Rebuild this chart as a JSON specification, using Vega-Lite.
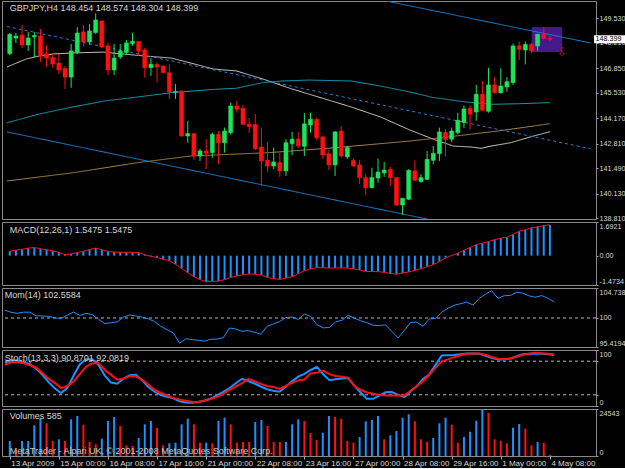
{
"$schema": "https://vega.github.io/schema/vega-lite/v6.json",
"background": "#000000",
"padding": 0,
"spacing": 3,
"bounds": "flush",
"config": {
  "view": {"stroke": "#8a8a8a", "strokeWidth": 1},
  "font": "Liberation Sans Narrow, Liberation Sans, sans-serif",
  "axis": {"labelColor": "#d8d8d8", "labelFont": "Liberation Sans, sans-serif", "labelFontSize": 7.2, "tickColor": "#a0a0a0", "domain": false, "grid": false, "tickSize": 2, "labelPadding": 1}
},
"datasets": {
  "bars": [
{"i":0,"o":147.63,"h":148.74,"l":147.56,"c":148.67,"macd":0.22,"mom":101.26,"k":77.5,"d":73.7,"vol":7833,"vd":"up"},
{"i":1,"o":148.47,"h":148.74,"l":148.21,"c":148.58,"macd":0.28,"mom":100.90,"k":81.8,"d":78.2,"vol":3133,"vd":"down"},
{"i":2,"o":148.63,"h":149.17,"l":147.94,"c":148.10,"macd":0.32,"mom":100.74,"k":81.3,"d":78.2,"vol":7833,"vd":"up"},
{"i":3,"o":148.10,"h":148.80,"l":147.78,"c":148.47,"macd":0.38,"mom":100.92,"k":78.0,"d":76.4,"vol":7833,"vd":"up"},
{"i":4,"o":148.53,"h":148.80,"l":147.46,"c":148.61,"macd":0.41,"mom":100.92,"k":74.8,"d":72.8,"vol":16032,"vd":"up"},
{"i":5,"o":148.58,"h":148.96,"l":147.19,"c":147.51,"macd":0.35,"mom":100.35,"k":66.8,"d":68.8,"vol":20000,"vd":"up"},
{"i":6,"o":147.62,"h":148.10,"l":146.92,"c":147.40,"macd":0.30,"mom":100.32,"k":56.0,"d":59.3,"vol":17076,"vd":"down"},
{"i":7,"o":147.43,"h":147.67,"l":146.87,"c":147.08,"macd":0.24,"mom":100.27,"k":42.9,"d":48.8,"vol":7833,"vd":"down"},
{"i":8,"o":147.13,"h":147.62,"l":146.55,"c":146.76,"macd":0.17,"mom":100.03,"k":31.5,"d":41.3,"vol":8721,"vd":"up"},
{"i":9,"o":146.84,"h":146.97,"l":145.74,"c":146.38,"macd":0.05,"mom":99.92,"k":23.1,"d":31.9,"vol":7833,"vd":"down"},
{"i":10,"o":146.38,"h":148.15,"l":145.80,"c":147.78,"macd":0.09,"mom":100.43,"k":31.9,"d":35.7,"vol":19165,"vd":"up"},
{"i":11,"o":147.70,"h":149.06,"l":147.62,"c":148.74,"macd":0.16,"mom":100.95,"k":53.7,"d":43.4,"vol":20888,"vd":"up"},
{"i":12,"o":148.80,"h":149.17,"l":148.02,"c":148.26,"macd":0.22,"mom":100.40,"k":74.1,"d":56.8,"vol":16345,"vd":"down"},
{"i":13,"o":148.26,"h":149.22,"l":148.10,"c":148.85,"macd":0.31,"mom":100.74,"k":83.6,"d":70.1,"vol":7311,"vd":"down"},
{"i":14,"o":148.77,"h":149.79,"l":148.69,"c":149.44,"macd":0.38,"mom":100.55,"k":83.6,"d":76.0,"vol":6110,"vd":"down"},
{"i":15,"o":149.39,"h":149.41,"l":147.94,"c":147.99,"macd":0.30,"mom":99.81,"k":73.7,"d":76.9,"vol":9034,"vd":"up"},
{"i":16,"o":148.05,"h":148.21,"l":146.49,"c":146.76,"macd":0.21,"mom":99.12,"k":54.4,"d":64.7,"vol":18277,"vd":"up"},
{"i":17,"o":146.76,"h":148.15,"l":146.49,"c":147.40,"macd":0.18,"mom":99.24,"k":41.8,"d":56.0,"vol":20366,"vd":"up"},
{"i":18,"o":147.46,"h":148.15,"l":147.35,"c":147.78,"macd":0.17,"mom":99.40,"k":39.8,"d":47.0,"vol":15666,"vd":"down"},
{"i":19,"o":147.70,"h":148.37,"l":147.62,"c":148.21,"macd":0.17,"mom":100.13,"k":48.6,"d":49.0,"vol":5588,"vd":"down"},
{"i":20,"o":148.18,"h":148.76,"l":148.05,"c":148.29,"macd":0.17,"mom":100.47,"k":54.8,"d":53.3,"vol":5222,"vd":"down"},
{"i":21,"o":148.29,"h":148.31,"l":147.51,"c":147.78,"macd":0.15,"mom":100.33,"k":55.9,"d":53.0,"vol":9400,"vd":"up"},
{"i":22,"o":147.83,"h":147.95,"l":146.35,"c":146.88,"macd":0.05,"mom":100.13,"k":46.0,"d":46.8,"vol":16554,"vd":"up"},
{"i":23,"o":146.89,"h":147.40,"l":146.44,"c":147.07,"macd":-0.03,"mom":99.87,"k":33.9,"d":37.7,"vol":18277,"vd":"up"},
{"i":24,"o":147.05,"h":147.16,"l":146.09,"c":146.92,"macd":-0.09,"mom":99.43,"k":25.4,"d":28.5,"vol":14622,"vd":"down"},
{"i":25,"o":146.97,"h":147.00,"l":146.60,"c":146.61,"macd":-0.18,"mom":98.69,"k":19.5,"d":23.6,"vol":5588,"vd":"down"},
{"i":26,"o":146.61,"h":147.07,"l":145.19,"c":145.58,"macd":-0.25,"mom":98.15,"k":16.4,"d":19.1,"vol":6632,"vd":"up"},
{"i":27,"o":145.58,"h":146.01,"l":145.21,"c":145.61,"macd":-0.43,"mom":97.66,"k":13.7,"d":14.2,"vol":6945,"vd":"up"},
{"i":28,"o":145.63,"h":145.66,"l":143.19,"c":143.22,"macd":-0.64,"mom":96.02,"k":8.6,"d":11.4,"vol":16554,"vd":"up"},
{"i":29,"o":143.22,"h":144.03,"l":142.86,"c":143.35,"macd":-0.85,"mom":96.72,"k":6.3,"d":9.5,"vol":19478,"vd":"up"},
{"i":30,"o":143.35,"h":143.36,"l":141.94,"c":142.15,"macd":-1.06,"mom":96.60,"k":5.8,"d":7.6,"vol":16554,"vd":"down"},
{"i":31,"o":142.15,"h":142.53,"l":141.88,"c":142.42,"macd":-1.20,"mom":96.48,"k":7.0,"d":7.0,"vol":6945,"vd":"down"},
{"i":32,"o":142.42,"h":143.05,"l":141.45,"c":142.29,"macd":-1.31,"mom":96.34,"k":9.7,"d":9.5,"vol":6945,"vd":"up"},
{"i":33,"o":142.33,"h":143.40,"l":142.06,"c":143.31,"macd":-1.29,"mom":96.65,"k":13.3,"d":12.4,"vol":6632,"vd":"down"},
{"i":34,"o":143.31,"h":143.49,"l":141.71,"c":142.86,"macd":-1.28,"mom":96.65,"k":18.9,"d":16.2,"vol":18277,"vd":"up"},
{"i":35,"o":142.86,"h":143.67,"l":142.33,"c":143.49,"macd":-1.20,"mom":96.90,"k":25.4,"d":21.6,"vol":20000,"vd":"up"},
{"i":36,"o":143.40,"h":145.01,"l":143.31,"c":144.83,"macd":-1.09,"mom":98.42,"k":32.1,"d":29.0,"vol":16554,"vd":"down"},
{"i":37,"o":144.83,"h":145.10,"l":144.47,"c":144.65,"macd":-1.02,"mom":98.26,"k":40.5,"d":34.8,"vol":6945,"vd":"down"},
{"i":38,"o":144.71,"h":144.88,"l":143.81,"c":143.85,"macd":-0.96,"mom":97.90,"k":48.6,"d":40.7,"vol":7311,"vd":"down"},
{"i":39,"o":143.85,"h":144.19,"l":143.38,"c":143.73,"macd":-0.92,"mom":98.01,"k":44.3,"d":48.6,"vol":7311,"vd":"down"},
{"i":40,"o":143.84,"h":144.40,"l":142.47,"c":142.54,"macd":-0.93,"mom":97.76,"k":40.2,"d":44.3,"vol":17755,"vd":"up"},
{"i":41,"o":142.63,"h":143.67,"l":140.54,"c":141.88,"macd":-0.97,"mom":97.44,"k":34.8,"d":39.5,"vol":18799,"vd":"up"},
{"i":42,"o":141.92,"h":142.90,"l":141.29,"c":141.61,"macd":-1.09,"mom":98.69,"k":29.9,"d":35.7,"vol":15666,"vd":"down"},
{"i":43,"o":141.61,"h":142.60,"l":141.45,"c":141.83,"macd":-1.16,"mom":99.04,"k":27.2,"d":34.1,"vol":7311,"vd":"down"},
{"i":44,"o":141.80,"h":142.33,"l":141.03,"c":141.35,"macd":-1.19,"mom":99.42,"k":25.4,"d":30.6,"vol":7311,"vd":"down"},
{"i":45,"o":141.35,"h":143.05,"l":141.08,"c":142.86,"macd":-1.12,"mom":100.06,"k":34.2,"d":35.7,"vol":7311,"vd":"up"},
{"i":46,"o":142.81,"h":143.44,"l":142.20,"c":143.05,"macd":-1.06,"mom":100.16,"k":44.0,"d":41.3,"vol":16554,"vd":"up"},
{"i":47,"o":143.06,"h":143.44,"l":142.58,"c":142.69,"macd":-0.90,"mom":99.78,"k":52.4,"d":45.8,"vol":19165,"vd":"up"},
{"i":48,"o":142.67,"h":144.45,"l":142.15,"c":143.87,"macd":-0.76,"mom":100.62,"k":57.3,"d":47.2,"vol":18277,"vd":"down"},
{"i":49,"o":143.81,"h":144.47,"l":143.40,"c":144.12,"macd":-0.66,"mom":100.24,"k":64.3,"d":58.2,"vol":12011,"vd":"down"},
{"i":50,"o":144.11,"h":144.20,"l":143.01,"c":143.13,"macd":-0.60,"mom":98.94,"k":69.7,"d":59.3,"vol":8355,"vd":"down"},
{"i":51,"o":143.17,"h":143.22,"l":141.99,"c":142.20,"macd":-0.61,"mom":98.44,"k":56.8,"d":63.2,"vol":12167,"vd":"up"},
{"i":52,"o":142.27,"h":142.47,"l":141.40,"c":141.67,"macd":-0.62,"mom":98.51,"k":45.9,"d":56.9,"vol":20888,"vd":"up"},
{"i":53,"o":141.67,"h":143.49,"l":141.08,"c":143.44,"macd":-0.62,"mom":99.40,"k":47.9,"d":53.5,"vol":20366,"vd":"down"},
{"i":54,"o":143.49,"h":143.76,"l":142.06,"c":142.15,"macd":-0.62,"mom":99.64,"k":49.2,"d":52.1,"vol":19478,"vd":"down"},
{"i":55,"o":142.10,"h":142.69,"l":142.01,"c":142.60,"macd":-0.62,"mom":100.41,"k":49.9,"d":50.6,"vol":7833,"vd":"down"},
{"i":56,"o":141.92,"h":142.01,"l":141.57,"c":141.61,"macd":-0.66,"mom":99.97,"k":35.9,"d":35.9,"vol":6945,"vd":"down"},
{"i":57,"o":141.67,"h":141.92,"l":140.65,"c":140.99,"macd":-0.72,"mom":99.57,"k":24.1,"d":29.0,"vol":9922,"vd":"up"},
{"i":58,"o":140.99,"h":141.19,"l":140.06,"c":140.45,"macd":-0.79,"mom":99.26,"k":12.8,"d":24.1,"vol":18120,"vd":"up"},
{"i":59,"o":140.45,"h":141.52,"l":140.42,"c":140.99,"macd":-0.80,"mom":98.85,"k":12.8,"d":21.8,"vol":18799,"vd":"up"},
{"i":60,"o":140.97,"h":142.01,"l":140.72,"c":141.29,"macd":-0.80,"mom":98.80,"k":18.4,"d":19.6,"vol":20888,"vd":"up"},
{"i":61,"o":141.24,"h":141.83,"l":141.03,"c":141.40,"macd":-0.84,"mom":98.91,"k":24.5,"d":18.7,"vol":8721,"vd":"down"},
{"i":62,"o":141.43,"h":141.56,"l":140.54,"c":140.99,"macd":-0.89,"mom":97.88,"k":25.0,"d":18.7,"vol":10810,"vd":"up"},
{"i":63,"o":140.99,"h":141.00,"l":139.47,"c":139.52,"macd":-0.93,"mom":96.86,"k":19.8,"d":18.7,"vol":13055,"vd":"up"},
{"i":64,"o":139.52,"h":139.90,"l":138.99,"c":139.88,"macd":-0.87,"mom":98.03,"k":15.7,"d":18.9,"vol":20000,"vd":"up"},
{"i":65,"o":139.83,"h":141.44,"l":139.78,"c":141.38,"macd":-0.82,"mom":99.32,"k":25.8,"d":27.2,"vol":21776,"vd":"up"},
{"i":66,"o":141.35,"h":141.92,"l":140.81,"c":140.85,"macd":-0.74,"mom":99.32,"k":35.5,"d":35.3,"vol":18120,"vd":"down"},
{"i":67,"o":140.78,"h":141.17,"l":140.72,"c":140.99,"macd":-0.65,"mom":98.70,"k":48.1,"d":44.1,"vol":8721,"vd":"down"},
{"i":68,"o":140.90,"h":142.42,"l":140.86,"c":141.97,"macd":-0.55,"mom":99.85,"k":56.4,"d":55.7,"vol":7311,"vd":"down"},
{"i":69,"o":141.92,"h":142.69,"l":141.70,"c":142.29,"macd":-0.45,"mom":99.95,"k":73.5,"d":68.1,"vol":9400,"vd":"up"},
{"i":70,"o":142.27,"h":143.67,"l":141.88,"c":143.44,"macd":-0.29,"mom":100.95,"k":90.3,"d":79.6,"vol":17076,"vd":"up"},
{"i":71,"o":143.41,"h":143.60,"l":142.11,"c":143.03,"macd":-0.11,"mom":101.55,"k":90.8,"d":83.2,"vol":20000,"vd":"up"},
{"i":72,"o":143.05,"h":143.67,"l":142.90,"c":143.49,"macd":0.01,"mom":102.02,"k":91.2,"d":87.2,"vol":16345,"vd":"down"},
{"i":73,"o":143.40,"h":144.47,"l":143.31,"c":144.06,"macd":0.13,"mom":102.26,"k":92.6,"d":90.5,"vol":6945,"vd":"down"},
{"i":74,"o":143.94,"h":144.86,"l":143.65,"c":144.67,"macd":0.27,"mom":102.50,"k":93.9,"d":93.3,"vol":9922,"vd":"up"},
{"i":75,"o":144.70,"h":144.87,"l":143.58,"c":144.39,"macd":0.41,"mom":102.05,"k":93.9,"d":93.9,"vol":12689,"vd":"up"},
{"i":76,"o":144.51,"h":145.96,"l":144.04,"c":145.46,"macd":0.56,"mom":103.10,"k":93.5,"d":93.9,"vol":18434,"vd":"up"},
{"i":77,"o":145.46,"h":146.17,"l":144.56,"c":144.60,"macd":0.63,"mom":103.76,"k":89.7,"d":91.5,"vol":24543,"vd":"up"},
{"i":78,"o":144.55,"h":146.88,"l":144.47,"c":145.96,"macd":0.71,"mom":104.30,"k":85.9,"d":87.4,"vol":22455,"vd":"down"},
{"i":79,"o":145.96,"h":146.38,"l":145.49,"c":145.54,"macd":0.80,"mom":103.10,"k":82.9,"d":84.5,"vol":8721,"vd":"down"},
{"i":80,"o":145.54,"h":146.85,"l":145.49,"c":145.90,"macd":0.88,"mom":103.52,"k":83.2,"d":84.0,"vol":7990,"vd":"down"},
{"i":81,"o":145.85,"h":146.38,"l":145.59,"c":146.13,"macd":0.92,"mom":103.57,"k":84.9,"d":84.9,"vol":6632,"vd":"down"},
{"i":82,"o":146.08,"h":148.17,"l":145.96,"c":148.05,"macd":1.07,"mom":104.07,"k":88.8,"d":88.1,"vol":14778,"vd":"up"},
{"i":83,"o":148.05,"h":148.28,"l":147.30,"c":147.87,"macd":1.23,"mom":103.92,"k":92.3,"d":91.5,"vol":16710,"vd":"up"},
{"i":84,"o":147.83,"h":148.28,"l":147.06,"c":148.13,"macd":1.31,"mom":103.49,"k":93.2,"d":93.3,"vol":14256,"vd":"down"},
{"i":85,"o":148.13,"h":148.22,"l":147.65,"c":147.78,"macd":1.40,"mom":103.27,"k":93.9,"d":95.0,"vol":5588,"vd":"down"},
{"i":86,"o":148.05,"h":148.70,"l":147.78,"c":148.67,"macd":1.45,"mom":103.55,"k":93.3,"d":94.1,"vol":7311,"vd":"up"},
{"i":87,"o":148.67,"h":149.06,"l":148.40,"c":148.45,"macd":1.51,"mom":103.11,"k":92.6,"d":93.3,"vol":6945,"vd":"down"},
{"i":88,"o":148.454,"h":148.574,"l":148.304,"c":148.399,"macd":1.5475,"mom":102.5584,"k":90.8701,"d":92.0819,"vol":585,"vd":"down"}
  ],
  "lines": [
{"s":"ma1","i":-0.45,"p":146.92},{"s":"ma1","i":2.7,"p":147.35},{"s":"ma1","i":4.8,"p":147.51},{"s":"ma1","i":7.1,"p":147.62},{"s":"ma1","i":10.3,"p":147.67},{"s":"ma1","i":15.1,"p":147.72},{"s":"ma1","i":18.3,"p":147.62},{"s":"ma1","i":22.0,"p":147.51},{"s":"ma1","i":26.3,"p":147.40},{"s":"ma1","i":29.5,"p":147.13},{"s":"ma1","i":33.2,"p":146.81},{"s":"ma1","i":36.9,"p":146.71},{"s":"ma1","i":41.2,"p":146.28},{"s":"ma1","i":46.0,"p":145.74},{"s":"ma1","i":51.9,"p":145.15},{"s":"ma1","i":55.6,"p":144.78},{"s":"ma1","i":60.4,"p":144.24},{"s":"ma1","i":65.2,"p":143.54},{"s":"ma1","i":69.1,"p":143.04},{"s":"ma1","i":72.3,"p":142.68},{"s":"ma1","i":75.2,"p":142.63},{"s":"ma1","i":76.8,"p":142.56},{"s":"ma1","i":78.4,"p":142.68},{"s":"ma1","i":81.6,"p":142.86},{"s":"ma1","i":84.8,"p":143.17},{"s":"ma1","i":88.0,"p":143.45},
{"s":"ma2","i":-0.45,"p":143.93},{"s":"ma2","i":4.8,"p":144.40},{"s":"ma2","i":10.3,"p":144.78},{"s":"ma2","i":15.5,"p":145.10},{"s":"ma2","i":20.8,"p":145.31},{"s":"ma2","i":26.3,"p":145.54},{"s":"ma2","i":33.2,"p":145.72},{"s":"ma2","i":36.9,"p":145.78},{"s":"ma2","i":41.2,"p":146.08},{"s":"ma2","i":44.4,"p":146.17},{"s":"ma2","i":48.7,"p":146.22},{"s":"ma2","i":55.6,"p":146.17},{"s":"ma2","i":60.4,"p":145.90},{"s":"ma2","i":65.2,"p":145.58},{"s":"ma2","i":68.9,"p":145.29},{"s":"ma2","i":74.4,"p":145.04},{"s":"ma2","i":78.5,"p":144.92},{"s":"ma2","i":82.9,"p":144.95},{"s":"ma2","i":88.0,"p":145.01},
{"s":"ma3","i":-0.45,"p":140.81},{"s":"ma3","i":10.3,"p":141.25},{"s":"ma3","i":20.8,"p":141.79},{"s":"ma3","i":29.5,"p":142.15},{"s":"ma3","i":33.2,"p":142.20},{"s":"ma3","i":42.3,"p":142.33},{"s":"ma3","i":52.9,"p":142.59},{"s":"ma3","i":65.2,"p":142.95},{"s":"ma3","i":71.6,"p":143.18},{"s":"ma3","i":79.6,"p":143.49},{"s":"ma3","i":88.0,"p":143.88},
{"s":"up","i":-0.45,"p":154.63},{"s":"up","i":94.6,"p":148.21},
{"s":"low","i":-0.45,"p":143.44},{"s":"low","i":94.6,"p":136.95},
{"s":"dash","i":-0.45,"p":149.09},{"s":"dash","i":94.6,"p":142.54}
  ],
  "zone": [{"i":85.05,"i2":90.0,"p":147.72,"p2":149.06}]
},
"vconcat": [
{
  "width": 594, "height": 218,
  "layer": [
    {"data": {"name": "zone"}, "mark": {"type": "rect", "color": "#46198a", "clip": true},
     "encoding": {
       "x": {"field": "i", "type": "quantitative", "scale": {"domain": [-0.45, 94.7], "nice": false, "zero": false}, "axis": null},
       "x2": {"field": "i2"},
       "y": {"field": "p", "type": "quantitative", "scale": {"domain": [138.772, 150.457], "nice": false, "zero": false},
             "axis": {"orient": "right", "title": null, "values": [149.53, 148.21, 146.85, 145.53, 144.17, 142.81, 141.49, 140.13, 138.81], "format": ".3f"}},
       "y2": {"field": "p2"}}},
    {"data": {"name": "lines"}, "mark": {"type": "line", "strokeWidth": 1, "clip": true},
     "encoding": {
       "x": {"field": "i", "type": "quantitative", "scale": {"domain": [-0.45, 94.7], "nice": false, "zero": false}, "axis": null},
       "y": {"field": "p", "type": "quantitative", "scale": {"domain": [138.772, 150.457], "nice": false, "zero": false},
             "axis": {"orient": "right", "title": null, "values": [149.53, 148.21, 146.85, 145.53, 144.17, 142.81, 141.49, 140.13, 138.81], "format": ".3f"}},
       "color": {"field": "s", "type": "nominal", "legend": null, "scale": {"domain": ["ma1", "ma2", "ma3", "up", "low", "dash"], "range": ["#d8d1c2", "#1a9fbb", "#a8894b", "#1c84d4", "#1c84d4", "#1c84d4"]}},
       "strokeDash": {"field": "s", "type": "nominal", "legend": null, "scale": {"domain": ["ma1", "ma2", "ma3", "up", "low", "dash"], "range": [[1, 0], [1, 0], [1, 0], [1, 0], [1, 0], [3, 3]]}}}},
    {"data": {"name": "bars"}, "mark": {"type": "rule", "strokeWidth": 1, "clip": true},
     "encoding": {
       "x": {"field": "i", "type": "quantitative", "scale": {"domain": [-0.45, 94.7], "nice": false, "zero": false}, "axis": null},
       "y": {"field": "l", "type": "quantitative", "scale": {"domain": [138.772, 150.457], "nice": false, "zero": false},
             "axis": {"orient": "right", "title": null, "values": [149.53, 148.21, 146.85, 145.53, 144.17, 142.81, 141.49, 140.13, 138.81], "format": ".3f"}},
       "y2": {"field": "h"},
       "color": {"condition": {"test": "datum.c >= datum.o", "value": "#1ee35a"}, "value": "#ff1010"}}},
    {"data": {"name": "bars"}, "mark": {"type": "bar", "size": 4, "strokeWidth": 0.6, "clip": true},
     "encoding": {
       "x": {"field": "i", "type": "quantitative", "scale": {"domain": [-0.45, 94.7], "nice": false, "zero": false}, "axis": null},
       "y": {"field": "o", "type": "quantitative", "scale": {"domain": [138.772, 150.457], "nice": false, "zero": false},
             "axis": {"orient": "right", "title": null, "values": [149.53, 148.21, 146.85, 145.53, 144.17, 142.81, 141.49, 140.13, 138.81], "format": ".3f"}},
       "y2": {"field": "c"},
       "color": {"condition": {"test": "datum.c >= datum.o", "value": "#1ee35a"}, "value": "#ff1010"},
       "stroke": {"condition": {"test": "datum.c >= datum.o", "value": "#1ee35a"}, "value": "#ff1010"}}},
    {"data": {"values": [{}]}, "mark": {"type": "text", "text": "⇩", "color": "#c4102a", "fontSize": 12, "font": "DejaVu Sans", "align": "center", "baseline": "middle"},
     "encoding": {"x": {"datum": 90.0, "type": "quantitative", "axis": null},
                  "y": {"datum": 147.7, "type": "quantitative", "axis": {"orient": "right", "title": null, "values": [149.53, 148.21, 146.85, 145.53, 144.17, 142.81, 141.49, 140.13, 138.81], "format": ".3f"}}}},
    {"data": {"values": [{}]}, "mark": {"type": "text", "text": "GBPJPY,H4 148.454 148.574 148.304 148.399", "color": "#d8d8d8", "fontSize": 9, "align": "left", "baseline": "middle"},
     "encoding": {"x": {"datum": 0.0, "type": "quantitative", "axis": null},
                  "y": {"datum": 150.07, "type": "quantitative", "axis": {"orient": "right", "title": null, "values": [149.53, 148.21, 146.85, 145.53, 144.17, 142.81, 141.49, 140.13, 138.81], "format": ".3f"}}}},
    {"data": {"values": [{}]}, "mark": {"type": "rect", "color": "#ffffff", "clip": false},
     "encoding": {"x": {"datum": 95.2, "type": "quantitative", "axis": null}, "x2": {"datum": 100.6},
                  "y": {"datum": 148.62, "type": "quantitative", "axis": {"orient": "right", "title": null, "values": [149.53, 148.21, 146.85, 145.53, 144.17, 142.81, 141.49, 140.13, 138.81], "format": ".3f"}}, "y2": {"datum": 148.19}}},
    {"data": {"values": [{}]}, "mark": {"type": "text", "text": "148.399", "color": "#000000", "fontSize": 7.2, "font": "Liberation Sans", "align": "left", "baseline": "middle", "clip": false},
     "encoding": {"x": {"datum": 95.45, "type": "quantitative", "axis": null},
                  "y": {"datum": 148.399, "type": "quantitative", "axis": {"orient": "right", "title": null, "values": [149.53, 148.21, 146.85, 145.53, 144.17, 142.81, 141.49, 140.13, 138.81], "format": ".3f"}}}}
  ]
},
{
  "width": 594, "height": 63,
  "data": {"name": "bars"},
  "layer": [
    {"mark": {"type": "bar", "size": 2, "color": "#1e90ff"},
     "encoding": {
       "x": {"field": "i", "type": "quantitative", "scale": {"domain": [-0.45, 94.7], "nice": false, "zero": false}, "axis": null},
       "y": {"field": "macd", "type": "quantitative", "scale": {"domain": [-1.4734, 1.6921], "nice": false, "zero": false},
             "axis": {"orient": "right", "title": null, "values": [1.6921, 0, -1.4734], "labelFlush": true, "labelExpr": "datum.value > 1 ? '1.6921' : datum.value < -1 ? '-1.4734' : '0.00'"}}}},
    {"mark": {"type": "line", "color": "#ff1020", "strokeWidth": 1},
     "encoding": {
       "x": {"field": "i", "type": "quantitative", "scale": {"domain": [-0.45, 94.7], "nice": false, "zero": false}, "axis": null},
       "y": {"field": "macd", "type": "quantitative", "scale": {"domain": [-1.4734, 1.6921], "nice": false, "zero": false},
             "axis": {"orient": "right", "title": null, "values": [1.6921, 0, -1.4734], "labelFlush": true, "labelExpr": "datum.value > 1 ? '1.6921' : datum.value < -1 ? '-1.4734' : '0.00'"}}}},
    {"data": {"values": [{}]}, "mark": {"type": "text", "text": "MACD(12,26,1) 1.5475 1.5475", "color": "#d8d8d8", "fontSize": 9, "align": "left", "baseline": "middle"},
     "encoding": {"x": {"datum": 0.0, "type": "quantitative", "axis": null},
                  "y": {"datum": 1.27, "type": "quantitative", "axis": {"orient": "right", "title": null, "values": [1.6921, 0, -1.4734], "labelFlush": true, "labelExpr": "datum.value > 1 ? '1.6921' : datum.value < -1 ? '-1.4734' : '0.00'"}}}}
  ]
},
{
  "width": 594, "height": 59,
  "data": {"name": "bars"},
  "layer": [
    {"data": {"values": [{}]}, "mark": {"type": "rule", "color": "#b8b8b8", "strokeDash": [3, 3], "strokeWidth": 1},
     "encoding": {"y": {"datum": 100, "type": "quantitative", "scale": {"domain": [95.4194, 104.7385], "nice": false, "zero": false},
       "axis": {"orient": "right", "title": null, "values": [104.7385, 100, 95.4194], "labelFlush": true, "labelExpr": "datum.value == 100 ? '100' : format(datum.value, '.4f')"}}}},
    {"mark": {"type": "line", "color": "#1e90ff", "strokeWidth": 1},
     "encoding": {
       "x": {"field": "i", "type": "quantitative", "scale": {"domain": [-0.45, 94.7], "nice": false, "zero": false}, "axis": null},
       "y": {"field": "mom", "type": "quantitative", "scale": {"domain": [95.4194, 104.7385], "nice": false, "zero": false},
             "axis": {"orient": "right", "title": null, "values": [104.7385, 100, 95.4194], "labelFlush": true, "labelExpr": "datum.value == 100 ? '100' : format(datum.value, '.4f')"}}}},
    {"data": {"values": [{}]}, "mark": {"type": "text", "text": "Mom(14) 102.5584", "color": "#d8d8d8", "fontSize": 9, "align": "left", "baseline": "middle"},
     "encoding": {"x": {"datum": 0.0, "type": "quantitative", "axis": null},
                  "y": {"datum": 103.6, "type": "quantitative", "axis": {"orient": "right", "title": null, "values": [104.7385, 100, 95.4194], "labelFlush": true, "labelExpr": "datum.value == 100 ? '100' : format(datum.value, '.4f')"}}}}
  ]
},
{
  "width": 594, "height": 56,
  "data": {"name": "bars"},
  "layer": [
    {"data": {"values": [{"lv": 80}, {"lv": 20}]}, "mark": {"type": "rule", "color": "#b8b8b8", "strokeDash": [3, 3], "strokeWidth": 1},
     "encoding": {"y": {"field": "lv", "type": "quantitative", "scale": {"domain": [0, 100], "nice": false, "zero": false},
       "axis": {"orient": "right", "title": null, "values": [100, 80, 20, 0], "labelFlush": true, "format": "d"}}}},
    {"mark": {"type": "line", "color": "#1e90ff", "strokeWidth": 2},
     "encoding": {
       "x": {"field": "i", "type": "quantitative", "scale": {"domain": [-0.45, 94.7], "nice": false, "zero": false}, "axis": null},
       "y": {"field": "k", "type": "quantitative", "scale": {"domain": [0, 100], "nice": false, "zero": false},
             "axis": {"orient": "right", "title": null, "values": [100, 80, 20, 0], "labelFlush": true, "format": "d"}}}},
    {"mark": {"type": "line", "color": "#ff1010", "strokeWidth": 2},
     "encoding": {
       "x": {"field": "i", "type": "quantitative", "scale": {"domain": [-0.45, 94.7], "nice": false, "zero": false}, "axis": null},
       "y": {"field": "d", "type": "quantitative", "scale": {"domain": [0, 100], "nice": false, "zero": false},
             "axis": {"orient": "right", "title": null, "values": [100, 80, 20, 0], "labelFlush": true, "format": "d"}}}},
    {"data": {"values": [{}]}, "mark": {"type": "text", "text": "Stoch(13,3,3) 90.8701 92.0819", "color": "#d8d8d8", "fontSize": 9, "align": "left", "baseline": "middle"},
     "encoding": {"x": {"datum": 0.0, "type": "quantitative", "axis": null},
                  "y": {"datum": 86.5, "type": "quantitative", "axis": {"orient": "right", "title": null, "values": [100, 80, 20, 0], "labelFlush": true, "format": "d"}}}}
  ]
},
{
  "width": 594, "height": 47,
  "data": {"name": "bars"},
  "layer": [
    {"mark": {"type": "bar", "size": 2},
     "encoding": {
       "x": {"field": "i", "type": "quantitative", "scale": {"domain": [-0.45, 94.7], "nice": false, "zero": false},
             "axis": {"orient": "bottom", "title": null, "values": [0, 8, 16, 24, 32, 40, 48, 56, 64, 72, 80, 88], "labelAlign": "left", "labelOverlap": false, "labelBound": false, "labelFlush": false, "labelPadding": 0, "labelOffset": 1, "labelFontSize": 8, "tickSize": 3,
                      "labelExpr": "['13 Apr 2009','15 Apr 00:00','16 Apr 08:00','17 Apr 16:00','21 Apr 00:00','22 Apr 08:00','23 Apr 16:00','27 Apr 00:00','28 Apr 08:00','29 Apr 16:00','1 May 00:00','4 May 08:00'][round(datum.value / 8)]"}},
       "y": {"field": "vol", "type": "quantitative", "scale": {"domain": [0, 24543], "nice": false, "zero": false},
             "axis": {"orient": "right", "title": null, "values": [24543, 0], "labelFlush": true, "format": "d"}},
       "color": {"condition": {"test": "datum.vd == 'up'", "value": "#1e90ff"}, "value": "#ff1010"}}},
    {"data": {"values": [{}]}, "mark": {"type": "text", "text": "Volumes 585", "color": "#d8d8d8", "fontSize": 9, "align": "left", "baseline": "middle"},
     "encoding": {"x": {"datum": 0.0, "type": "quantitative",
                        "axis": {"orient": "bottom", "title": null, "values": [0, 8, 16, 24, 32, 40, 48, 56, 64, 72, 80, 88], "labelAlign": "left", "labelOverlap": false, "labelBound": false, "labelFlush": false, "labelPadding": 0, "labelOffset": 1, "labelFontSize": 8, "tickSize": 3,
                      "labelExpr": "['13 Apr 2009','15 Apr 00:00','16 Apr 08:00','17 Apr 16:00','21 Apr 00:00','22 Apr 08:00','23 Apr 16:00','27 Apr 00:00','28 Apr 08:00','29 Apr 16:00','1 May 00:00','4 May 08:00'][round(datum.value / 8)]"}},
                  "y": {"datum": 20700, "type": "quantitative", "axis": {"orient": "right", "title": null, "values": [24543, 0], "labelFlush": true, "format": "d"}}}},
    {"data": {"values": [{}]}, "mark": {"type": "text", "text": "MetaTrader - Alpari UK, © 2001-2008 MetaQuotes Software Corp.", "color": "#c8c8c8", "fontSize": 9, "align": "left", "baseline": "middle"},
     "encoding": {"x": {"datum": 0.0, "type": "quantitative",
                        "axis": {"orient": "bottom", "title": null, "values": [0, 8, 16, 24, 32, 40, 48, 56, 64, 72, 80, 88], "labelAlign": "left", "labelOverlap": false, "labelBound": false, "labelFlush": false, "labelPadding": 0, "labelOffset": 1, "labelFontSize": 8, "tickSize": 3,
                      "labelExpr": "['13 Apr 2009','15 Apr 00:00','16 Apr 08:00','17 Apr 16:00','21 Apr 00:00','22 Apr 08:00','23 Apr 16:00','27 Apr 00:00','28 Apr 08:00','29 Apr 16:00','1 May 00:00','4 May 08:00'][round(datum.value / 8)]"}},
                  "y": {"datum": 2600, "type": "quantitative", "axis": {"orient": "right", "title": null, "values": [24543, 0], "labelFlush": true, "format": "d"}}}}
  ]
}
],
"resolve": {"scale": {"x": "independent", "y": "independent", "color": "independent"}}
}
